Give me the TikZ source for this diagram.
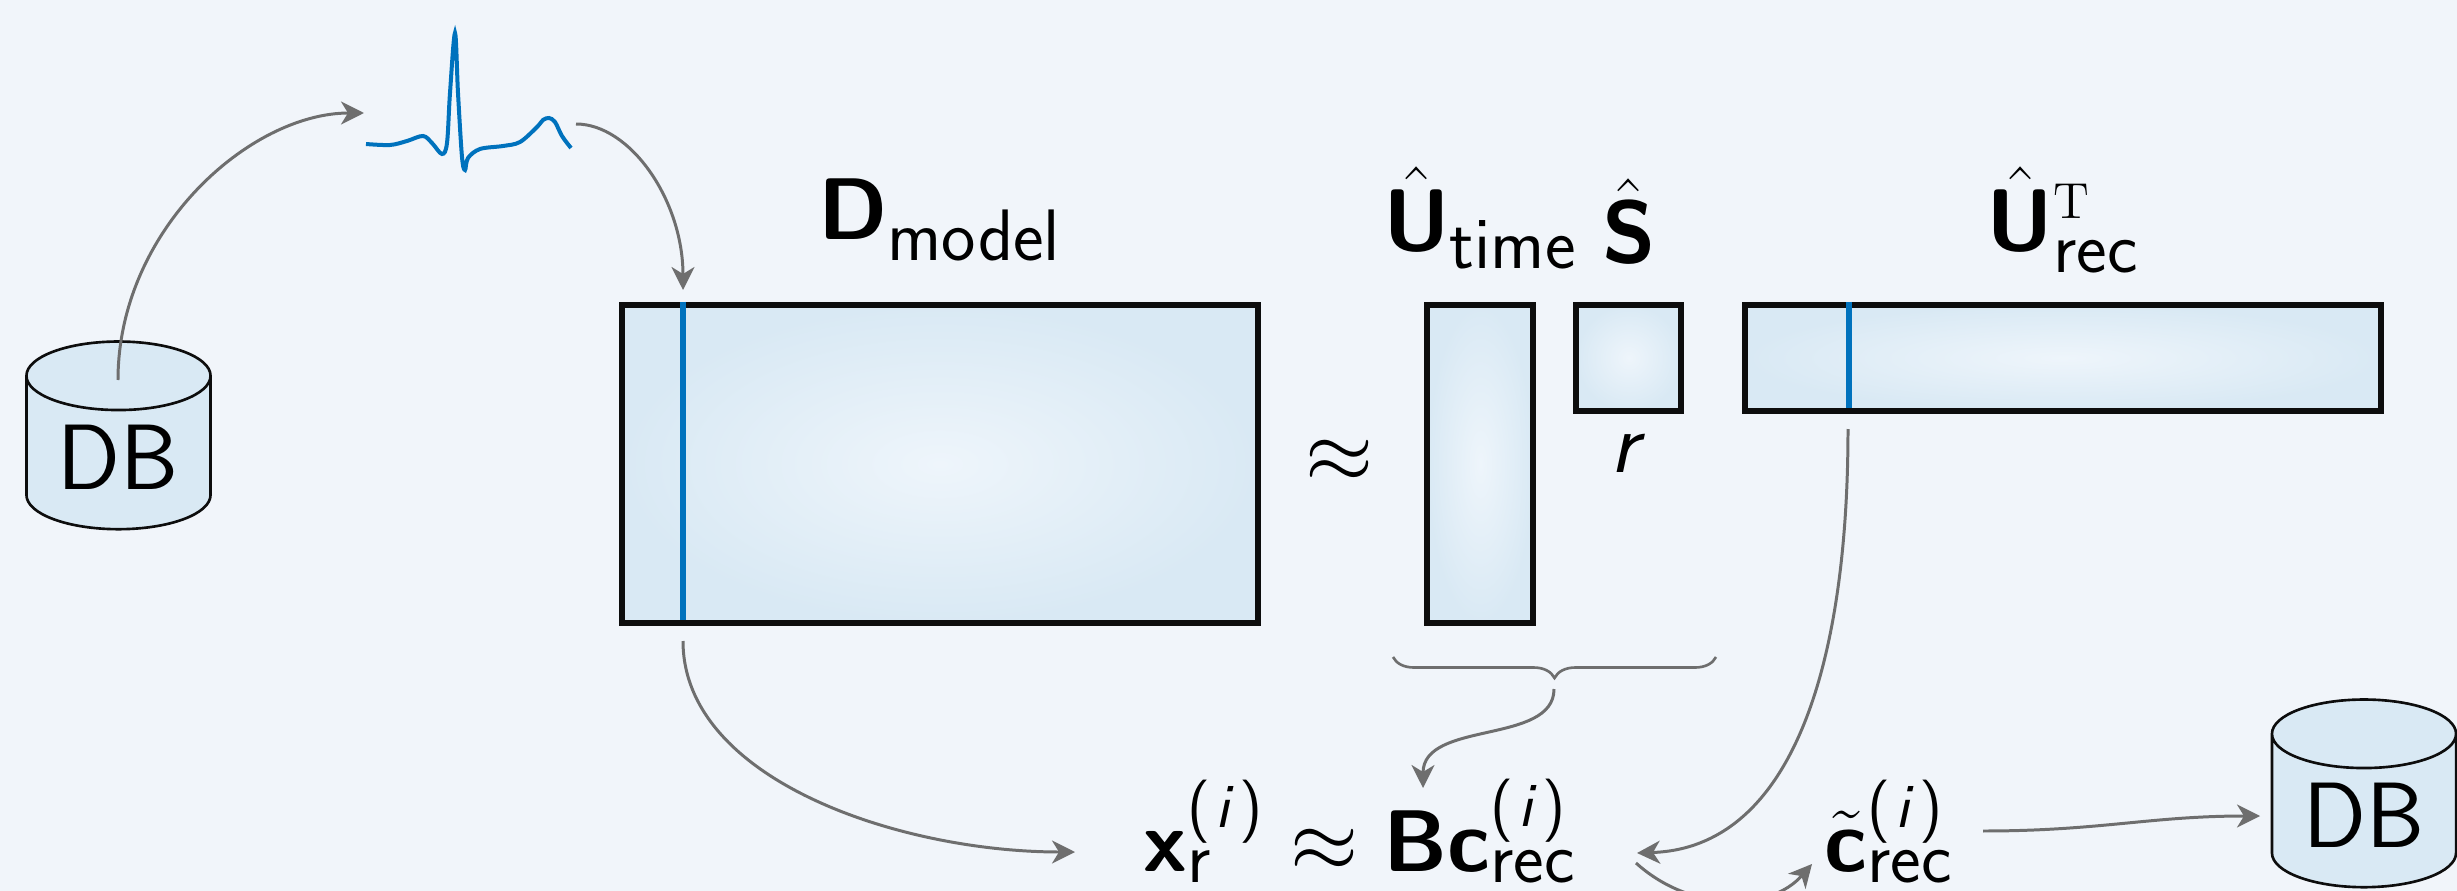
\documentclass[tikz,border=0pt]{standalone}
\usepackage{tikz}
\usetikzlibrary{arrows.meta, positioning, calc, shapes.geometric, decorations.pathreplacing}
\usepackage{amsmath, amssymb}
\usepackage{xcolor}
\DeclareMathAlphabet{\mathbsf}{OT1}{cmss}{bx}{n}
\DeclareMathAlphabet{\mathsfit}{OT1}{cmss}{m}{sl}
\DeclareMathSizes{26.4}{26.4}{20}{15}
\newcommand{\dmodel}{\mathbsf{D}}
\newcommand{\sidx}{\smash{\raisebox{3.4pt}{\fontsize{18}{20}\selectfont\sffamily (\kern1.5pt\textsl{i}\kern1.5pt)}}}
\newcommand{\slow}[1]{\smash{\raisebox{2.8pt}{$\scriptstyle\mathsf{#1}$}}}
\definecolor{pagebg}{RGB}{241,245,250}
\definecolor{cellout}{RGB}{217,233,244}
\definecolor{cellin}{RGB}{238,245,251}
\definecolor{signalbl}{RGB}{0,114,189}
\definecolor{arrowgr}{RGB}{110,110,110}

\begin{document}
\begin{tikzpicture}[
    x=0.01cm, y=-0.01cm,
    >={Stealth[length=0.23cm, width=0.23cm, inset=0.07cm]},
    mat/.style={draw=black!95, line width=0.06cm, inner sep=0pt,
                inner color=cellin, outer color=cellout},
    db/.style={cylinder, shape border rotate=90, shape aspect=0.45, draw=black!95,
               fill=cellout, line width=0.75pt, minimum width=1.84cm,
               minimum height=0.5cm, inner sep=0.156cm, text height=0.62cm, text depth=0.094cm,
               font=\fontsize{26.4}{30}\selectfont\sffamily},
    lab/.style={inner sep=0pt, font=\fontsize{26.4}{30}\selectfont\sffamily},
    arr/.style={->, arrowgr, line width=0.85pt},
    col/.style={signalbl, line width=0.06cm},
]
\fill[pagebg] (0,0) rectangle (2457,891);
\useasboundingbox (0,0) rectangle (2457,891);

% matrices
\node[mat, minimum width=6.36cm, minimum height=3.18cm] (dmat) at (940,464) {};
\node[mat, right=1.63cm of dmat, minimum width=1.06cm, minimum height=3.18cm] (utime) {};
\node[mat, minimum width=1.05cm, minimum height=1.06cm, anchor=north west]
    (smat) at ([xshift=0.37cm]utime.north east) {};
\node[mat, right=0.58cm of smat, minimum width=6.35cm, minimum height=1.06cm] (urec) {};

% labels
\node[lab, above=0.41cm of dmat] (ldmat) {$\dmodel_{\mathsf{model}}$};
\node[lab, above=0.33cm of utime] (lutime) {$\hat{\mathbsf{U}}_{\mathsf{time}}$};
\node[lab, above=0.39cm of smat] (lsmat) {$\hat{\mathbsf{S}}$};
\node[lab, above=0.29cm of urec] (lurec) {$\hat{\mathbsf{U}}_{\mathsf{rec}}^{\scriptscriptstyle\mathrm{T}}$};
\node[lab, below=0.2cm of smat] (lrank) {$\mathsfit{r}$};
\node[lab, xshift=-0.03cm, yshift=0.03cm] (lapprox) at ($(dmat.east)!0.5!(utime.west)$) {$\approx$};

% selected columns
\coordinate (dtop) at ([xshift=0.64cm]dmat.north west);
\coordinate (utop) at ([xshift=1.06cm]urec.north west);
\draw[col] (dtop) -- ([yshift=0.06cm]dtop |- dmat.south);
\draw[col] (utop) -- ([yshift=0.06cm]utop |- urec.south);

% databases
\node[db] (dbin) at (118.5,462.7) {DB};
\node[db] (dbout) at (2364,820.7) {DB};

% signal
\draw[signalbl, line width=0.04cm, smooth, tension=0.55] plot coordinates {
    (366,144) (390,145) (407,141) (423,136) (432,143) (442,154) (447,143)
    (450,93) (455,33) (458,93) (462,157) (465,170) (468,158) (480,149)
    (503,146) (520,142) (537,127) (543,120) (549,118) (555,122) (562,136) (571,148)};

% bottom line
\node[lab, anchor=base west] (xrec) at (1143,871) {$\mathbsf{x}_{\slow{r}}^{\sidx}$};
\node[lab, base right=0.24cm of xrec] (lapprox2) {$\approx$};
\node[lab, base right=0.24cm of lapprox2] (bcrec) {$\mathbsf{Bc}_{\slow{rec}}^{\sidx}$};
\node[lab, anchor=base west] (crec) at (1824,871) {$\tilde{\mathbsf{c}}_{\slow{rec}}^{\sidx}$};

% brace
\coordinate (bracel) at (1393,657);
\coordinate (bracer) at (1716,657);
\draw[arrowgr, line width=0.75pt, decorate, decoration={brace, mirror, amplitude=0.21cm}]
    (bracel) -- (bracer);

% connectors
\coordinate (dbstart) at (118,380);
\coordinate (sigin) at (364,113);
\coordinate (sigout) at (576,124);
\coordinate (dtip) at (683,290);
\coordinate (dstart) at (683,641);
\coordinate (xtip) at (1075,852);
\coordinate (bstart) at (1554,689);
\coordinate (btip) at (1423,788);
\coordinate (ustart) at (1848,429);
\coordinate (utip) at (1637,853);
\coordinate (loopstart) at (1636,863);
\coordinate (looptip) at (1812,864);
\coordinate (cstart) at (1983,831);
\coordinate (ctip) at (2260,816);

\draw[arr] (dbstart) .. controls (118,230) and (250,113) .. (sigin);
\draw[arr] (sigout) .. controls (630,124) and (683,200) .. (dtip);
\draw[arr] (dstart) .. controls (683,780) and (900,852) .. (xtip);
\draw[arr] (bstart) .. controls (1554,745) and (1423,720) .. (btip);
\draw[arr] (ustart) .. controls (1848,670) and (1790,848) .. (utip);
\draw[arr] (loopstart) .. controls (1690,912) and (1770,912) .. (looptip);
\draw[arr] (cstart) .. controls (2100,831) and (2150,816) .. (ctip);

\end{tikzpicture}
\end{document}
